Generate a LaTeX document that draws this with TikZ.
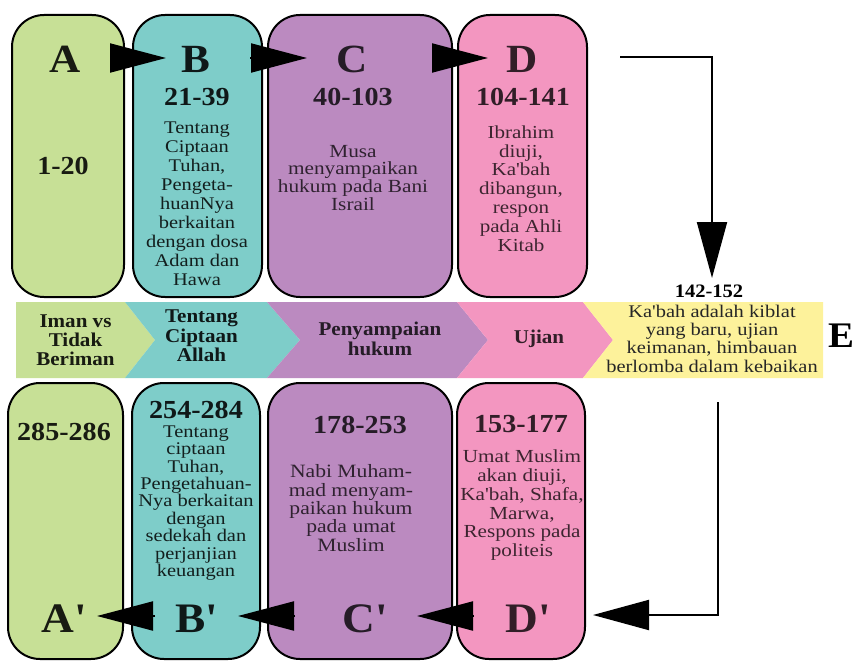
\documentclass[tikz,border=0pt]{standalone}
\usepackage{fontspec}
\newfontfamily\ser[FakeStretch=1.08]{Liberation Serif}
\newfontfamily\serw[FakeStretch=1.15]{Liberation Serif}
\usetikzlibrary{arrows.meta}
\definecolor{greenc}{RGB}{199,224,150}
\definecolor{tealc}{RGB}{126,205,201}
\definecolor{purplec}{RGB}{187,138,192}
\definecolor{pinkc}{RGB}{243,150,192}
\definecolor{yellowc}{RGB}{253,242,155}
\newcommand\setfs[2]{\ser\fontsize{#1}{#2}\selectfont\lineskiplimit=-40pt\relax}
\newcommand\setbody[2]{\serw\fontsize{#1}{#2}\selectfont\lineskiplimit=-40pt\relax}
\begin{document}
\begin{tikzpicture}[x=1pt,y=-1pt,
  box/.style={draw=black, line width=2pt, rounded corners=32pt, inner sep=0pt, minimum width=#1},
  topbox/.style={box=#1, minimum height=282pt},
  botbox/.style={box=#1, minimum height=276pt},
  lab/.style={font=\setfs{40}{40}\bfseries, inner sep=0pt, anchor=base},
  blab/.style={font=\setfs{42}{42}\bfseries, inner sep=0pt, anchor=base},
  num/.style={font=\setfs{26}{26}\bfseries, inner sep=0pt, anchor=base},
  body/.style={align=center, inner sep=0pt, anchor=north},
  tri/.style={-{Triangle[length=56pt,width=29pt]}, line width=2pt},
  link/.style={line width=2pt, -{Triangle[length=56pt,width=30pt]}}
]
\useasboundingbox (0,0) rectangle (855,661);

% top boxes
\node[topbox=112pt, fill=greenc]  (boxA) at (68,156) {};
\node[topbox=129pt, fill=tealc]   (boxB) at (197.5,156) {};
\node[topbox=184pt, fill=purplec] (boxC) at (360,156) {};
\node[topbox=129pt, fill=pinkc]   (boxD) at (522.5,156) {};

% bottom boxes
\node[botbox=115pt, fill=greenc]  (boxA2) at (65.5,521) {};
\node[botbox=128pt, fill=tealc]   (boxB2) at (196,521) {};
\node[botbox=184pt, fill=purplec] (boxC2) at (360,521) {};
\node[botbox=128pt, fill=pinkc]   (boxD2) at (521,521) {};

% band
\fill[greenc]  (16,302) -- (125,302) -- (155,340) -- (125,378) -- (16,378) -- cycle;
\fill[tealc]   (125,302) -- (267,302) -- (300,340) -- (267,378) -- (125,378) -- (155,340) -- cycle;
\fill[purplec] (267,302) -- (457,302) -- (488,340) -- (457,378) -- (267,378) -- (300,340) -- cycle;
\fill[pinkc]   (457,302) -- (583,302) -- (613,340) -- (583,378) -- (457,378) -- (488,340) -- cycle;
\fill[yellowc] (583,302) -- (823,302) -- (823,378) -- (583,378) -- (613,340) -- cycle;

% top labels
\node[lab, text=greenc!12!black]  (A) at (65,73) {A};
\node[lab, text=tealc!12!black]   (B) at (196,73) {B};
\node[lab, text=purplec!20!black] (C) at (352,73) {C};
\node[lab, text=pinkc!20!black]   (D) at (522,73) {D};

\node[num, text=greenc!12!black]  (nA) at (63,174) {1-20};
\node[num, text=tealc!12!black]   (nB) at (197,106) {21-39};
\node[num, text=purplec!20!black] (nC) at (353,106) {40-103};
\node[num, text=pinkc!20!black]   (nD) at (523,106) {104-141};

\node[body, font=\setbody{17.8}{19}, text=tealc!15!black] (tB) at (197,121.2)
  {Tentang\\Ciptaan\\Tuhan,\\Pengeta-\\huanNya\\berkaitan\\dengan dosa\\Adam dan\\Hawa};
\node[body, font=\setbody{18.5}{17.7}, text=purplec!25!black] (tC) at (353,144.8)
  {Musa\\menyampaikan\\hukum pada Bani\\Israil};
\node[body, font=\setbody{18.3}{18.8}, text=pinkc!25!black] (tD) at (521,125.5)
  {Ibrahim\\diuji,\\Ka'bah\\dibangun,\\respon\\pada Ahli\\Kitab};

% band texts
\node[body, font=\setfs{19.5}{19}\bfseries, text=greenc!12!black] (b1) at (75.5,314.8) {Iman vs\\Tidak\\Beriman};
\node[body, font=\setfs{19.5}{19.5}\bfseries, text=tealc!12!black] (b2) at (201.5,309.8) {Tentang\\Ciptaan\\Allah};
\node[body, font=\setfs{19.5}{20}\bfseries, text=purplec!20!black] (b3) at (380,321.8) {Penyampaian\\hukum};
\node[font=\setfs{19.5}{19.5}\bfseries, inner sep=0pt, anchor=base, text=pinkc!20!black] (b4) at (539,343) {Ujian};
\node[body, font=\setbody{17.8}{18.3}, text=black!85] (tE) at (712,304.8)
  {Ka'bah adalah kiblat\\yang baru, ujian\\keimanan, himbauan\\berlomba dalam kebaikan};
\node[font=\setfs{19}{19}\bfseries, inner sep=0pt, anchor=base] (nE) at (709,297) {142-152};
\node[font=\setfs{36}{36}\bfseries, inner sep=0pt, anchor=base] (E) at (841,347) {E};

% bottom texts
\node[num, text=greenc!12!black]  (nA2) at (64,440) {285-286};
\node[num, text=tealc!12!black]   (nB2) at (196,418) {254-284};
\node[num, text=purplec!20!black] (nC2) at (360,433) {178-253};
\node[num, text=pinkc!20!black]   (nD2) at (521,432) {153-177};

\node[body, font=\setbody{17.8}{17.4}, text=tealc!15!black] (tB2) at (196,425.5)
  {Tentang\\ciptaan\\Tuhan,\\Pengetahuan-\\Nya berkaitan\\dengan\\sedekah dan\\perjanjian\\keuangan};
\node[body, font=\setbody{18.8}{18.3}, text=purplec!25!black] (tC2) at (351,464.6)
  {Nabi Muham-\\mad menyam-\\paikan hukum\\pada umat\\Muslim};
\node[body, font=\setbody{18.4}{18.8}, text=pinkc!25!black] (tD2) at (522,449.8)
  {Umat Muslim\\akan diuji,\\Ka'bah, Shafa,\\Marwa,\\Respons pada\\politeis};

\node[blab, text=greenc!12!black]  (A2) at (64,632) {A'};
\node[blab, text=tealc!12!black]   (B2) at (197,632) {B'};
\node[blab, text=purplec!20!black] (C2) at (365,632) {C'};
\node[blab, text=pinkc!20!black]   (D2) at (528,632) {D'};

% arrow coordinates
\coordinate (ab1) at (110,58);  \coordinate (ab2) at (166,58);
\coordinate (bc1) at (250,58);  \coordinate (bc2) at (307,58);
\coordinate (cd1) at (432,58);  \coordinate (cd2) at (488,58);
\coordinate (de1) at (620,57);  \coordinate (de2) at (712,278);
\coordinate (ed1) at (718,402); \coordinate (ed2) at (593,615);
\coordinate (dc1) at (474,616); \coordinate (dc2) at (417,616);
\coordinate (cb1) at (295,616); \coordinate (cb2) at (238,616);
\coordinate (ba1) at (155,616); \coordinate (ba2) at (97,616);

\draw[tri] (ab1) -- (ab2);
\draw[tri] (bc1) -- (bc2);
\draw[tri] (cd1) -- (cd2);
\draw[link] (de1) -| (de2);
\draw[link] (ed1) |- (ed2);
\draw[tri] (dc1) -- (dc2);
\draw[tri] (cb1) -- (cb2);
\draw[tri] (ba1) -- (ba2);
\end{tikzpicture}
\end{document}
